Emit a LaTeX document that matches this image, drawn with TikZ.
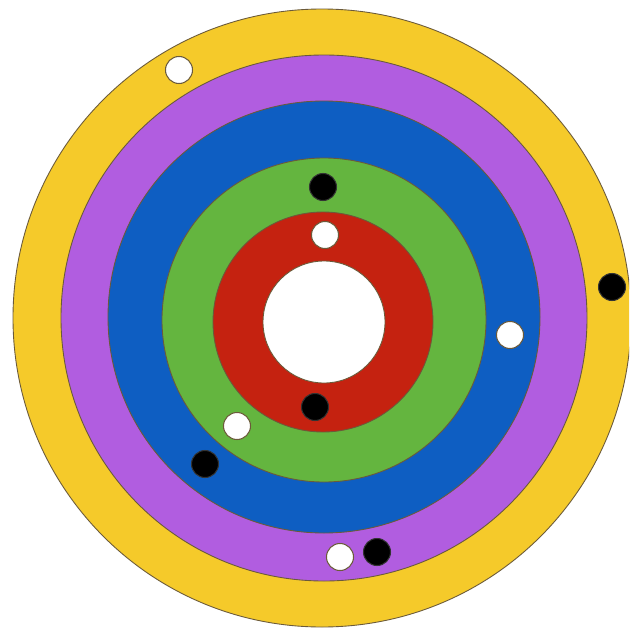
\documentclass[tikz,border=0pt]{standalone}
\usepackage{xcolor}
\usepackage{tikz}
\definecolor{ringyellow}{HTML}{F5CA2A}
\definecolor{ringpurple}{HTML}{B15DE0}
\definecolor{ringblue}{HTML}{0E5EC2}
\definecolor{ringgreen}{HTML}{64B53F}
\definecolor{ringred}{HTML}{C52210}
\definecolor{edge}{HTML}{6B5A3A}
\tikzset{
  ring/.style={draw=edge, line width=0.5pt},
  whitedot/.style={fill=white, draw=edge, line width=0.6pt},
  blackdot/.style={fill=black, draw=black!80, line width=0.6pt},
}

\begin{document}
\begin{tikzpicture}[x=0.02cm, y=-0.02cm]

  \useasboundingbox (0,0) rectangle (629,632);
  \clip (0,0) rectangle (629,632);
  \fill[white] (0,0) rectangle (629,632);

  % rings, outside in
  \filldraw[ring, fill=ringyellow] (322,318) circle (309);
  \filldraw[ring, fill=ringpurple] (324,318) circle (263);
  \filldraw[ring, fill=ringblue]   (324,317) circle (216);
  \filldraw[ring, fill=ringgreen]  (324,320) circle (162);
  \filldraw[ring, fill=ringred]    (323,322) circle (110);
  \filldraw[ring, fill=white]      (324,322) circle (61);

  % dots
  \foreach \x/\y in {179/70, 325/235, 510/335, 237/426, 340/557}
    \filldraw[whitedot] (\x,\y) circle (13.5);
  \foreach \x/\y in {612/287, 323/187, 315/407, 205/464, 377/552}
    \filldraw[blackdot] (\x,\y) circle (13.5);

\end{tikzpicture}
\end{document}
